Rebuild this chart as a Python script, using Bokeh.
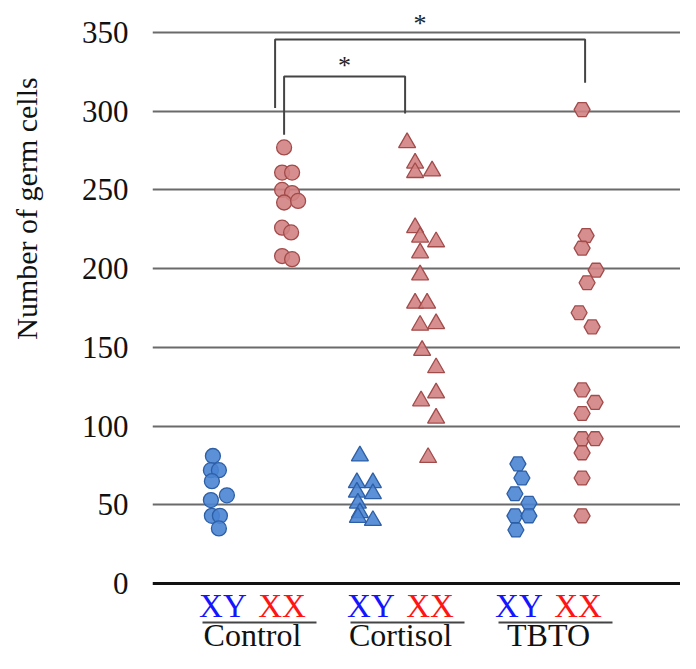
import math
from bokeh.plotting import figure
from bokeh.layouts import row
from bokeh.models import Range1d, FixedTicker, Span
from bokeh.core.properties import value
from bokeh.embed import file_html
from bokeh.resources import INLINE

# ---------------- data ----------------
groups = ["Control", "Cortisol", "TBTO"]
sexes = ["XY", "XX"]
y_ticks = [0, 50, 100, 150, 200, 250, 300, 350]
y_title = "Number of germ cells"

control_xy = [81, 72, 72, 65, 56, 53, 43, 43, 35]
control_xx = [277, 261, 261, 250, 248, 242, 243, 226, 223, 208, 206]
cortisol_xy = [81, 64, 64, 58, 57, 51, 45, 42, 40]
cortisol_xx = [280, 267, 261, 262, 226, 220, 217, 210, 196, 178, 178, 164, 165,
               148, 137, 116, 121, 105, 80]
tbto_xy = [76, 67, 57, 51, 43, 43, 34]
tbto_xx = [301, 221, 213, 199, 191, 172, 163, 123, 115, 108, 92, 92, 83, 67, 43]

# horizontal spread of the points inside each column (px)
control_xy_jit = [-10, -12, -4, -11, 4, -12, -11, -3, -4]
control_xx_jit = [2, 0, 10, 0, 10, 2, 16, 0, 9, 0, 10]
cortisol_xy_jit = [-11, -14, 2, -14, 2, -13, -11, -13, 2]
cortisol_xx_jit = [-23, -15, -15, 2, -15, -10, 6, -10, -10, -15, -3, -10, 6,
                   -8, 6, -9, 6, 6, -2]
tbto_xy_jit = [-1, 3, -4, 10, -4, 10, -3]
tbto_xx_jit = [4, 8, 4, 18, 9, 1, 14, 4, 17, 4, 4, 17, 4, 4, 4]

# significance brackets: from column, to column, top, left end, right end
bracket_from = [("Control", "XX"), ("Control", "XX")]
bracket_to = [("Cortisol", "XX"), ("TBTO", "XX")]
bracket_top = [322, 345.5]
bracket_left_end = [285, 302]
bracket_right_end = [298.5, 318]
bracket_label = "*"

# ---------------- styling / layout ----------------
UNIT = 148.0                     # px between group centres
SEX_OFF = {"XY": -0.2, "XX": 0.2}
GROUP_POS = {g: i + 1 for i, g in enumerate(groups)}
MARKERS = {"Control": "circle", "Cortisol": "triangle", "TBTO": "hex"}
SIZES = {"Control": 15, "Cortisol": 17, "TBTO": 16}
FILL = {"XY": "#4a84d3", "XX": "#d18282"}
LINE = {"XY": "#2d5fa6", "XX": "#a24b4b"}
TXT = {"XY": "#1414ff", "XX": "#ff1414"}
SERIF = "Liberation Serif"
BR_END_OFF = [(2, -25), (-7, 7)]     # px nudges of bracket ends
BR_STAR = [(0, 7), (-10, 10)]        # px nudge, value offset of the stars
H = 653
TITLE_W = 60

series = {
    ("Control", "XY"): (control_xy, control_xy_jit),
    ("Control", "XX"): (control_xx, control_xx_jit),
    ("Cortisol", "XY"): (cortisol_xy, cortisol_xy_jit),
    ("Cortisol", "XX"): (cortisol_xx, cortisol_xx_jit),
    ("TBTO", "XY"): (tbto_xy, tbto_xy_jit),
    ("TBTO", "XX"): (tbto_xx, tbto_xx_jit),
}


def col_x(g, s):
    return GROUP_POS[g] + SEX_OFF[s]


# ---- narrow strip holding the y-axis title ----
t = figure(width=TITLE_W, height=H, x_range=Range1d(0, TITLE_W),
           y_range=Range1d(0, H), output_backend="svg",
           toolbar_location=None, x_axis_location=None, y_axis_location=None,
           min_border=0)
t.outline_line_color = None
t.xgrid.visible = False
t.ygrid.visible = False
t.text(x=[25.5], y=[H - 208], text=[y_title], angle=math.pi / 2,
       text_font=value(SERIF), text_font_size="30px", text_color="#111111",
       text_align="center", text_baseline="middle")

# ---- main plot ----
p = figure(width=680 - TITLE_W, height=H,
           x_range=Range1d(1 - 100 / UNIT, 1 + 428 / UNIT),
           y_range=Range1d(-44.46, 370.3),
           output_backend="svg", toolbar_location=None,
           x_axis_location=None,
           min_border_left=152 - TITLE_W, min_border_right=0,
           min_border_top=0, min_border_bottom=0)
p.outline_line_color = None

ax = p.yaxis[0]
ax.ticker = FixedTicker(ticks=y_ticks)
ax.axis_line_color = None
ax.major_tick_line_color = None
ax.minor_tick_line_color = None
ax.major_tick_out = 0
ax.major_tick_in = 0
ax.major_label_standoff = 24
ax.major_label_text_font = SERIF
ax.major_label_text_font_size = "31px"
ax.major_label_text_color = "#111111"

p.xgrid.visible = False
p.ygrid.ticker = FixedTicker(ticks=[v for v in y_ticks if v > 0])
p.ygrid.grid_line_color = "#6a6a6a"
p.ygrid.grid_line_width = 2

p.add_layout(Span(location=0, dimension="width", line_color="#111111",
                  line_width=3))

# points
for (g, s), (vals, jit) in series.items():
    xs = [col_x(g, s) + j / UNIT for j in jit]
    p.scatter(x=xs, y=vals, marker=MARKERS[g], size=SIZES[g],
              fill_color=FILL[s], fill_alpha=0.9,
              line_color=LINE[s], line_width=1.3)

# brackets
for i in range(len(bracket_top)):
    xa = col_x(*bracket_from[i]) + BR_END_OFF[i][0] / UNIT
    xb = col_x(*bracket_to[i]) + BR_END_OFF[i][1] / UNIT
    top = bracket_top[i]
    p.line(x=[xa, xa, xb, xb],
           y=[bracket_left_end[i], top, top, bracket_right_end[i]],
           line_color="#444444", line_width=2)
    p.text(x=[(xa + xb) / 2 + BR_STAR[i][0] / UNIT], y=[top + BR_STAR[i][1]],
           text=[bracket_label], text_font=value(SERIF),
           text_font_size="26px", text_align="center",
           text_baseline="middle", text_color="#222222")

# category labels
lx, ly, lt, lc = [], [], [], []
for g in groups:
    for s in sexes:
        lx.append(col_x(g, s))
        ly.append(-14.6)
        lt.append(s)
        lc.append(TXT[s])
p.text(x=lx, y=ly, text=lt, text_color=lc, text_font=value(SERIF),
       text_font_size="33px", text_align="center", text_baseline="middle")

gx = [GROUP_POS[g] for g in groups]
p.segment(x0=[x - 50 / UNIT for x in gx], x1=[x + 64 / UNIT for x in gx],
          y0=[-24.8] * 3, y1=[-24.8] * 3, line_color="#444444", line_width=2)
p.text(x=gx, y=[-33.0] * 3, text=groups, text_color="#111111",
       text_font=value(SERIF), text_font_size="32px",
       text_align="center", text_baseline="middle")

layout = row(t, p, spacing=0)
open("out.html", "w").write(file_html(layout, INLINE))
